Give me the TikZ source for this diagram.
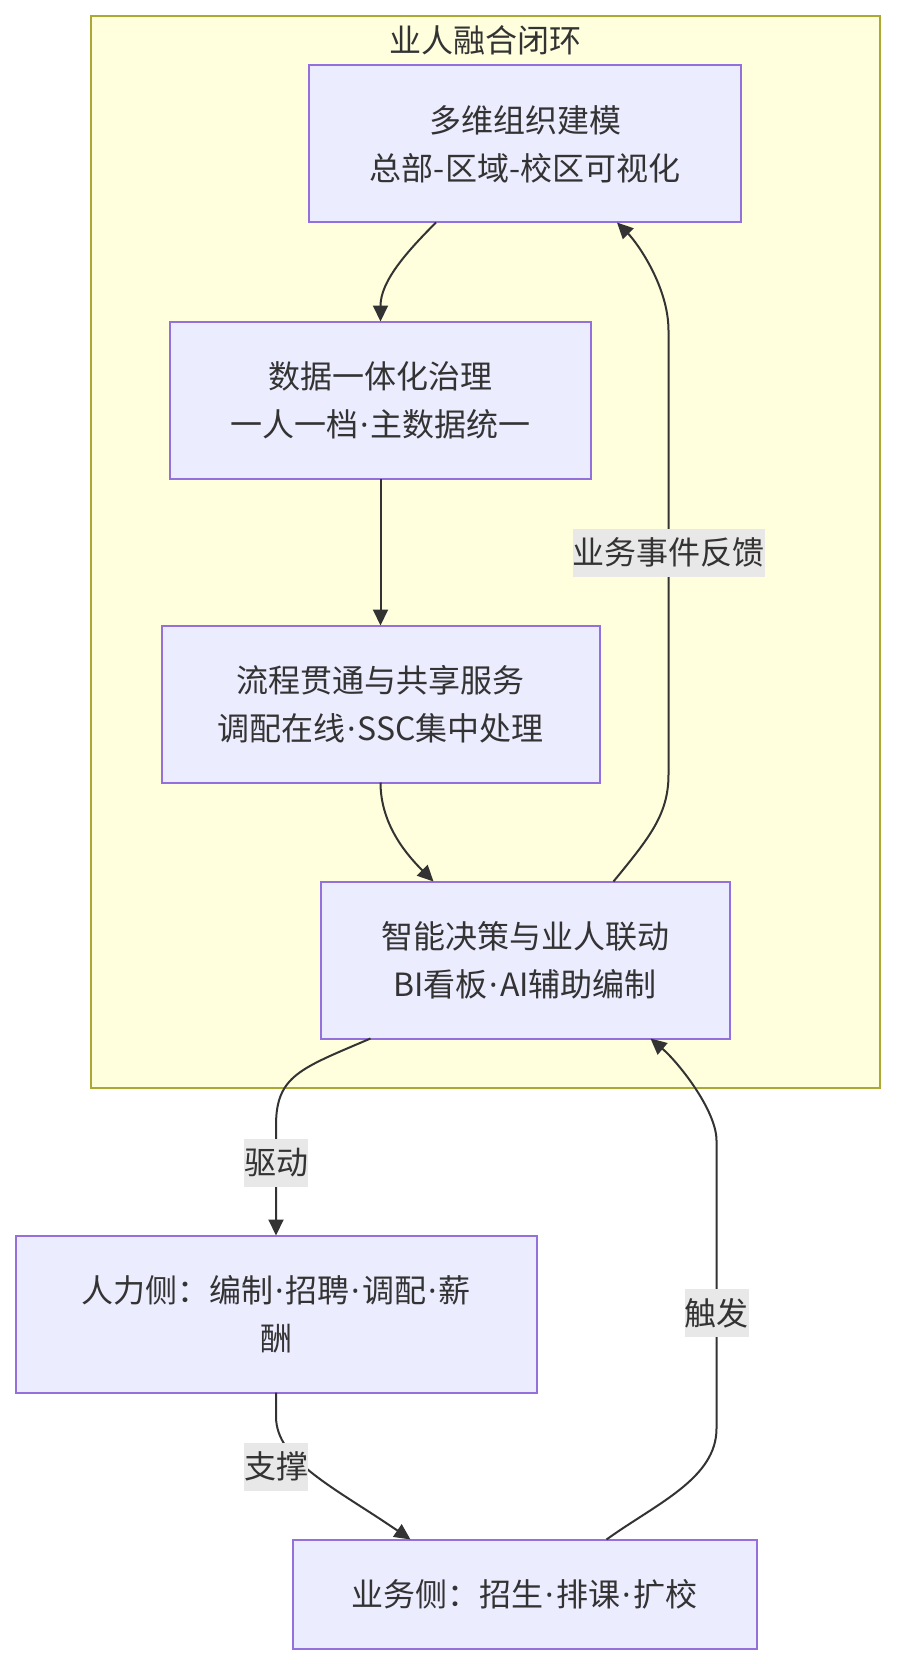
\documentclass[tikz,border=0pt]{standalone}
\usepackage{fontspec}
\newfontfamily\cjk{Noto Sans CJK SC}
\newfontfamily\latin{Noto Sans}
\newcommand\mdot{\makebox[6.3pt]{\latin ·}}
\usepackage{xcolor}
\definecolor{nodefill}{HTML}{ECECFF}
\definecolor{nodeline}{HTML}{9370DB}
\definecolor{loopfill}{HTML}{FFFFDE}
\definecolor{loopline}{HTML}{AAAA33}
\definecolor{edgegray}{HTML}{333333}
\definecolor{lblgray}{HTML}{E8E8E8}
\usepackage{tikz}
\usetikzlibrary{arrows.meta,positioning}

\begin{document}
\begin{tikzpicture}[
    procbox/.style={rectangle, draw=nodeline, fill=nodefill, line width=1pt,
                 minimum height=78.5pt, inner sep=0pt, outer sep=0pt,
                 align=center, text=edgegray, font=\cjk\fontsize{16}{24}\selectfont},
    loopbox/.style={rectangle, draw=loopline, fill=loopfill, line width=1pt},
    arr/.style={-{Triangle[length=8pt,width=7.5pt]}, line width=1pt, edgegray},
    lbl/.style={fill=lblgray, text=edgegray, inner sep=0pt, minimum height=24pt,
                 font=\cjk\fontsize{16}{24}\selectfont},
  ]
    \path[use as bounding box, fill=white] (0,0) rectangle (448pt,-832pt);

    \node[loopbox, minimum width=394.3pt, minimum height=536pt] (loop) at (242.85pt,-276pt) {};
    \node[text=edgegray, font=\cjk\fontsize{16}{24}\selectfont] (looptitle)
        at ([yshift=-12.5pt]loop.north) {业人融合闭环};

    \node[procbox, minimum width=216pt] (model) at (262.5pt,-72pt) {多维组织建模\\总部-区域-校区可视化};
    \node[procbox, minimum width=210.5pt, below=49.5pt of model, xshift=-72.25pt]
                                     (data)   {数据一体化治理\\一人一档\mdot 主数据统一};
    \node[procbox, minimum width=219pt, below=73.5pt of data]
                                     (proc)   {流程贯通与共享服务\\调配在线\mdot SSC集中处理};
    \node[procbox, minimum width=204.5pt, below=49.5pt of proc, xshift=72.25pt]
                                     (decide) {智能决策与业人联动\\BI看板\mdot AI辅助编制};

    \node[procbox, minimum width=260.5pt, below=98.5pt of decide, xshift=-124.5pt]
                                     (hr)     {人力侧：编制\mdot 招聘\mdot 调配\mdot 薪\\酬};
    \node[procbox, minimum width=232pt, minimum height=54.5pt, below=73.5pt of hr, xshift=124.25pt]
                                     (biz)    {业务侧：招生\mdot 排课\mdot 扩校};

    \draw[arr] ([xshift=-44.5pt]model.south) .. controls +(-15pt,-15pt) and +(0,20pt) .. (data.north);
    \draw[arr] (data) -- (proc);
    \draw[arr] (proc.south) .. controls +(0,-22pt) and +(-12pt,12pt) .. ([xshift=-45.75pt]decide.north);
    \draw[arr] ([xshift=44.25pt]decide.north) .. controls +(18pt,22pt) and +(0,-20pt) .. ++(27.5pt,53.5pt)
        -- node[lbl] (fbl) {业务事件反馈} ++(0,222pt)
        .. controls +(0,22pt) and +(10pt,-10pt) .. ([xshift=46pt]model.south);

    \draw[arr] ([xshift=-77.25pt]decide.south) .. controls +(-35pt,-15pt) and +(0,25pt) .. ++(-47.25pt,-43.5pt)
        -- node[lbl, pos=0.34] (drvl) {驱动} (hr.north);
    \draw[arr] (hr.south) -- ++(0,-12pt) .. controls +(0,-22pt) and +(-38pt,26pt) .. ([xshift=-57pt]biz.north);
    \node[lbl] (supl) at ([yshift=-37pt]hr.south) {支撑};
    \draw[arr] ([xshift=41pt]biz.north) .. controls +(25pt,18pt) and +(0,-25pt) .. ++(55pt,55.5pt)
        -- node[lbl, pos=0.4] (trgl) {触发} ++(0,144pt)
        .. controls +(0,15pt) and +(14pt,-12pt) .. ([xshift=62.75pt]decide.south);
  \end{tikzpicture}
\end{document}
